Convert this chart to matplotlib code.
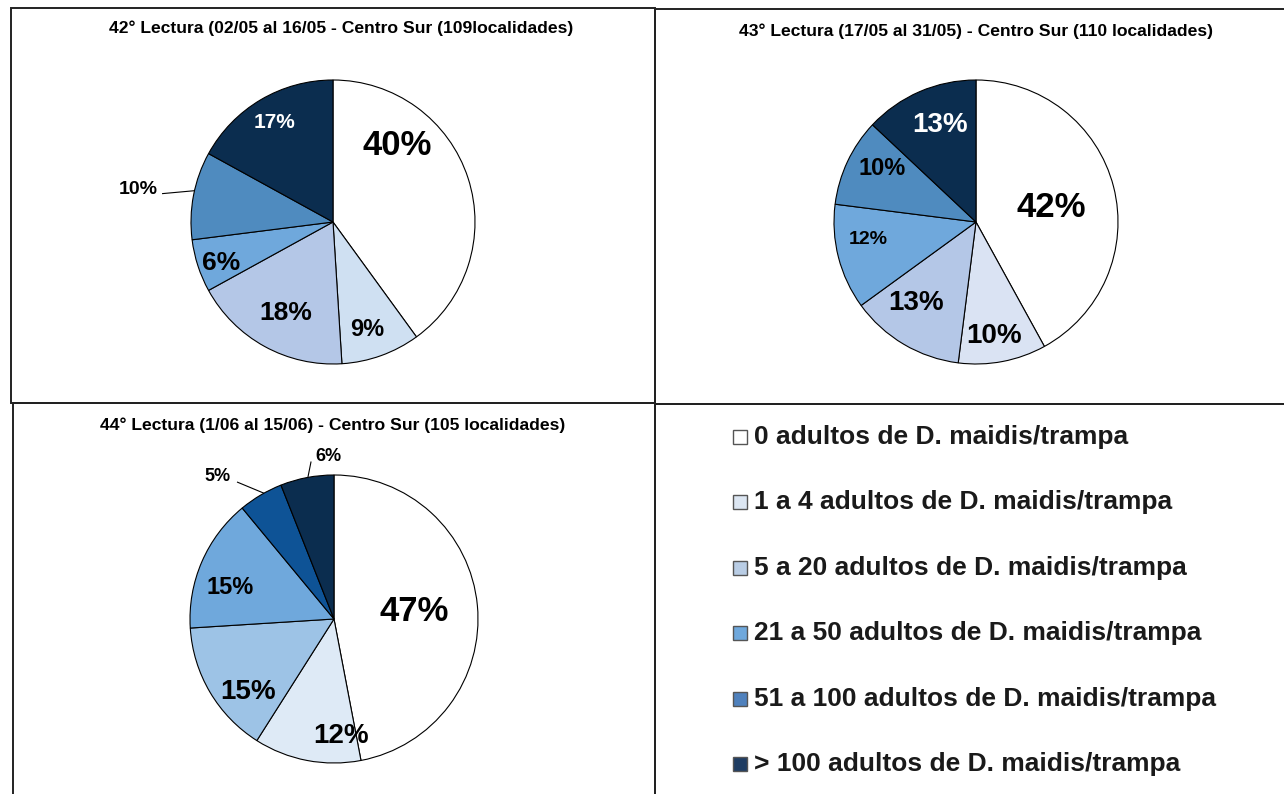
import matplotlib
matplotlib.use("Agg")
import matplotlib.pyplot as plt
from matplotlib.patches import Rectangle

# datos
categorias = [
    "0 adultos de D. maidis/trampa",
    "1 a 4 adultos de D. maidis/trampa",
    "5 a 20 adultos de D. maidis/trampa",
    "21 a 50 adultos de D. maidis/trampa",
    "51 a 100 adultos de D. maidis/trampa",
    "> 100 adultos de D. maidis/trampa",
]
titulos = [
    "42° Lectura (02/05 al 16/05 - Centro Sur (109localidades)",
    "43° Lectura (17/05 al 31/05) - Centro Sur (110 localidades)",
    "44° Lectura (1/06 al 15/06) - Centro Sur (105 localidades)",
]
lectura_42 = [40, 9, 18, 6, 10, 17]
lectura_43 = [42, 10, 13, 12, 10, 13]
lectura_44 = [47, 12, 15, 15, 5, 6]

# estilos
colores_42 = ["#ffffff", "#cfe0f2", "#b4c7e7", "#6fa8dc", "#4f8bbf", "#0b2d4f"]
colores_43 = ["#ffffff", "#dae3f3", "#b4c7e7", "#6fa8dc", "#4f8bbf", "#0b2d4f"]
colores_44 = ["#ffffff", "#deeaf6", "#9dc3e6", "#6fa8dc", "#0e5396", "#0b2d4f"]
colores_leyenda = ["#ffffff", "#dce6f2", "#b9cde5", "#6fa8dc", "#4f81bd", "#1f3d63"]

# label layout: (x, y) in pie radius units, font size, color
etiq_42 = [((0.45, 0.54), 25, "black"), ((0.24, -0.76), 17, "black"),
           ((-0.33, -0.64), 19, "black"), ((-0.79, -0.29), 19, "black"),
           ((-1.37, 0.23), 14, "black"), ((-0.41, 0.70), 15, "white")]
etiq_43 = [((0.53, 0.10), 25, "black"), ((0.13, -0.80), 20, "black"),
           ((-0.42, -0.57), 20, "black"), ((-0.76, -0.12), 14, "black"),
           ((-0.66, 0.38), 17, "black"), ((-0.25, 0.68), 20, "white")]
etiq_44 = [((0.56, 0.05), 25, "black"), ((0.05, -0.81), 20, "black"),
           ((-0.60, -0.51), 20, "black"), ((-0.72, 0.22), 17, "black"),
           ((-0.81, 0.99), 13, "black"), ((-0.04, 1.13), 13, "black")]

W, H = 1284, 794
fig = plt.figure(figsize=(W / 100, H / 100), dpi=100)
plt.rcParams["font.family"] = ["Liberation Sans", "DejaVu Sans"]

bg = fig.add_axes([0, 0, 1, 1])
bg.set_xlim(0, W)
bg.set_ylim(H, 0)
bg.axis("off")

# panel borders
for x0, y0, x1, y1 in [(11, 8, 655, 403), (655, 9, 1290, 404),
                       (13, 403, 655, 800), (655, 404, 1290, 800)]:
    bg.add_patch(Rectangle((x0, y0), x1 - x0, y1 - y0, fill=False,
                           edgecolor="#222222", linewidth=1.4))

for t, (tx, ty) in zip(titulos, [(341, 28), (976, 31), (333, 425)]):
    bg.text(tx, ty, t, ha="center", va="center", fontsize=12.6, fontweight="bold")


def dibujar_torta(valores, colores, etiquetas, cx, cy, r):
    half = 180
    ax = fig.add_axes([(cx - half) / W, 1 - (cy + half) / H, 2 * half / W, 2 * half / H])
    ax.pie(valores, colors=colores, startangle=90, counterclock=False, radius=1,
           wedgeprops=dict(edgecolor="black", linewidth=0.8))
    lim = half / r
    ax.set_xlim(-lim, lim)
    ax.set_ylim(-lim, lim)
    for v, ((x, y), fs, c) in zip(valores, etiquetas):
        ax.text(x, y, f"{v}%", ha="center", va="center", fontsize=fs,
                fontweight="bold", color=c)
    return ax


ax1 = dibujar_torta(lectura_42, colores_42, etiq_42, 333, 222, 142)
ax1.plot([-1.20, -0.98], [0.20, 0.22], color="black", linewidth=0.8)

ax2 = dibujar_torta(lectura_43, colores_43, etiq_43, 976, 222, 142)

ax3 = dibujar_torta(lectura_44, colores_44, etiq_44, 334, 619, 144)
ax3.plot([-0.67, -0.49], [0.95, 0.875], color="black", linewidth=0.8)
ax3.plot([-0.16, -0.18], [1.09, 0.99], color="black", linewidth=0.8)

# leyenda
for i, (cat, col) in enumerate(zip(categorias, colores_leyenda)):
    y = 437 + i * 65.4
    bg.add_patch(Rectangle((733, y - 7), 14, 14, facecolor=col,
                           edgecolor="#555555", linewidth=1.0))
    bg.text(754, y, cat, ha="left", va="center", fontsize=19,
            fontweight="bold", color="#1a1a1a")

fig.savefig("out.png", dpi=100)
